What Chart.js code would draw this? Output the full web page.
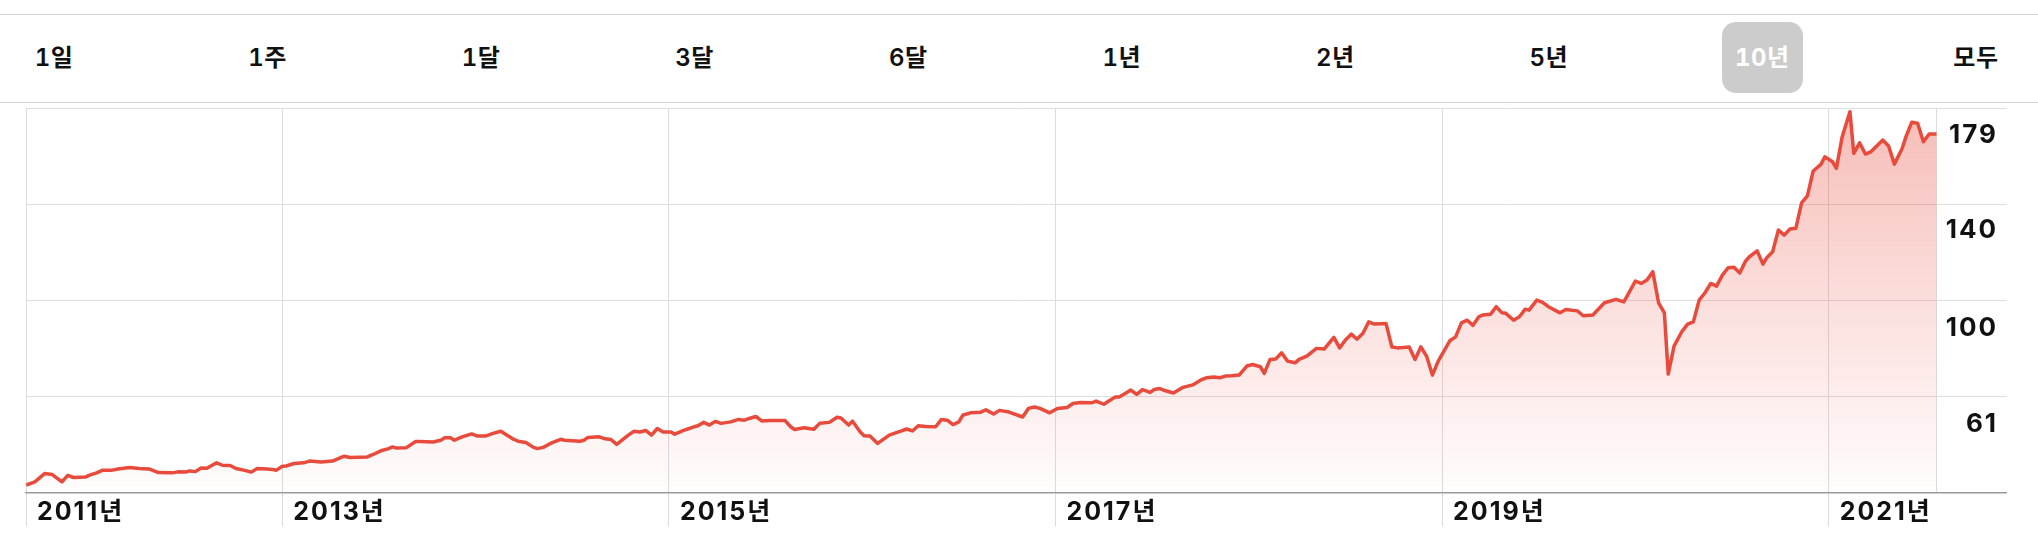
<!DOCTYPE html>
<html><head><meta charset="utf-8">
<script src="https://cdn.jsdelivr.net/npm/chart.js@4"></script>
<style>
html,body{margin:0;padding:0;background:#fff;width:2038px;height:540px;overflow:hidden;font-family:Inter,'Noto Sans CJK KR',sans-serif;}
.rule{position:absolute;left:0;width:2038px;height:1px;background:#d6d6d6;}
#tabs{position:absolute;left:13.5px;top:22px;width:2003px;height:71px;display:flex;justify-content:space-between;}
.tab{width:81px;height:71px;line-height:71px;text-align:center;font-size:24px;font-weight:600;color:#111;border-radius:14px;font-variant-numeric:tabular-nums;letter-spacing:0.5px;}
.tab.active{background:#cccccc;color:#fff;font-weight:700;}
#wrap{position:absolute;left:0;top:100px;width:2038px;height:440px;}
</style></head>
<body>
<div class="rule" style="top:14px"></div>
<div id="tabs"></div>
<div class="rule" style="top:102px"></div>
<div id="wrap"><canvas id="c" width="2038" height="440"></canvas></div>
<script>
// ---- data ----
const tabLabels = ['1일','1주','1달','3달','6달','1년','2년','5년','10년','모두'];
const activeTab = '10년';

const dates = [
2011.675,2011.72,2011.77,2011.81,2011.86,2011.89,2011.92,2011.98,2012.01,2012.04,
2012.07,2012.12,2012.15,2012.21,2012.26,2012.31,2012.36,2012.43,2012.46,2012.50,
2012.52,2012.55,2012.58,2012.61,2012.66,2012.69,2012.73,2012.76,2012.80,2012.84,
2012.87,2012.92,2012.95,2012.97,2013.00,2013.02,2013.06,2013.11,2013.14,2013.20,
2013.26,2013.32,2013.35,2013.44,2013.47,2013.51,2013.55,2013.57,2013.59,2013.64,
2013.69,2013.71,2013.78,2013.82,2013.84,2013.87,2013.89,2013.93,2013.98,2014.01,
2014.05,2014.09,2014.13,2014.19,2014.22,2014.26,2014.30,
2014.32,2014.35,2014.38,2014.40,2014.44,2014.46,2014.54,2014.56,2014.58,2014.64,
2014.67,2014.70,2014.73,2014.79,2014.82,2014.85,2014.88,2014.91,2014.94,2014.97,
2015.01,2015.03,2015.07,2015.09,2015.13,2015.15,2015.18,2015.21,2015.24,2015.27,
2015.32,2015.36,2015.39,2015.42,2015.45,2015.48,2015.52,2015.60,2015.63,2015.65,
2015.70,2015.75,2015.78,2015.83,2015.87,2015.89,2015.93,2015.95,2015.99,2016.01,
2016.04,2016.08,2016.14,2016.18,2016.20,2016.23,2016.26,2016.29,2016.33,2016.38,
2016.41,2016.44,2016.47,2016.50,2016.52,2016.56,2016.61,2016.64,2016.68,2016.71,
2016.76,2016.83,2016.86,2016.89,2016.92,2016.97,
2017.01,2017.06,2017.09,2017.13,2017.19,2017.21,2017.25,2017.27,2017.31,2017.33,
2017.39,2017.42,2017.45,2017.49,2017.51,2017.54,2017.57,2017.61,2017.66,2017.71,
2017.75,2017.78,2017.82,2017.85,2017.88,2017.91,2017.95,2017.99,2018.02,2018.06,
2018.08,2018.11,2018.14,2018.17,2018.20,2018.24,2018.26,2018.30,2018.35,2018.39,
2018.44,2018.47,2018.50,2018.53,2018.56,2018.59,2018.62,2018.65,2018.71,2018.74,
2018.77,2018.83,2018.86,2018.89,2018.92,2018.95,2018.98,2019.04,2019.07,2019.10,
2019.13,2019.16,2019.19,2019.21,2019.25,2019.28,2019.31,2019.33,2019.37,2019.40,
2019.43,2019.45,2019.49,2019.52,2019.55,
2019.61,2019.64,2019.70,2019.73,2019.78,2019.84,2019.90,2019.94,2019.96,2020.00,
2020.03,2020.06,2020.09,2020.12,2020.15,2020.17,2020.20,2020.24,2020.27,2020.30,
2020.33,2020.36,2020.39,2020.42,2020.45,2020.48,2020.51,2020.54,2020.57,2020.59,
2020.63,2020.66,2020.68,2020.71,2020.74,2020.77,2020.80,2020.83,2020.86,2020.89,
2020.92,2020.96,2020.98,2021.02,2021.04,2021.07,2021.11,2021.13,2021.16,2021.19,
2021.22,2021.28,2021.31,2021.34,2021.38,2021.40,2021.43,2021.46,2021.49,2021.52,
2021.558
];

const prices = [
36.1,37.4,40.8,40.4,37.4,40.1,39.2,39.4,40.4,41.1,
42.2,42.2,42.7,43.3,42.9,42.7,41.2,41.1,41.5,41.4,
41.9,41.6,43.1,43.0,45.2,44.2,44.1,42.9,42.2,41.4,
42.9,42.7,42.5,42.2,43.8,43.9,44.9,45.2,45.9,45.5,
45.9,47.9,47.4,47.6,48.6,50.1,51.0,51.7,51.2,51.3,
53.9,53.9,53.7,54.4,55.4,55.4,54.4,55.8,57.0,56.1,
56.1,57.2,58.1,55.1,54.0,53.5,51.5,
51.0,51.5,52.8,53.5,54.8,54.4,54.0,54.4,55.5,55.8,
55.0,54.7,52.7,56.5,58.1,57.8,58.4,56.5,59.2,57.8,
57.8,56.9,58.2,58.8,59.9,60.3,61.7,60.6,62.1,61.3,
61.9,62.9,62.6,63.4,64.1,62.3,62.5,62.5,59.9,58.8,
59.5,58.9,61.3,61.7,63.8,63.5,60.6,62.2,57.8,56.2,
56.1,53.1,56.5,57.6,58.1,59.0,58.2,60.3,60.0,59.9,
62.9,62.6,60.8,61.9,64.6,65.6,65.8,66.8,65.1,66.6,
65.9,63.9,67.4,68.0,67.4,65.6,
67.4,67.8,69.4,69.8,69.7,70.4,69.1,70.1,72.1,72.1,
74.9,73.1,75.1,73.9,75.1,75.5,74.6,73.7,76.0,77.0,
78.9,79.9,80.2,79.9,80.6,80.7,81.0,84.7,85.3,84.4,
81.7,87.4,87.6,90.1,86.7,86.0,87.4,88.7,91.9,91.6,
96.4,92.1,95.3,97.7,95.7,98.0,102.7,101.8,102.1,92.5,
92.1,92.5,87.4,92.5,88.7,81.0,86.7,95.0,96.6,102.3,
103.4,101.3,104.8,105.5,105.8,108.9,106.4,106.2,103.4,104.8,
107.9,107.5,111.6,110.7,108.9,
106.4,107.8,107.2,105.2,105.5,110.5,111.9,110.9,113.6,119.4,
118.4,119.8,123.2,110.5,106.4,81.4,92.8,98.7,101.8,102.7,
111.6,114.6,118.4,117.3,121.8,124.8,125.0,122.7,127.5,129.3,
131.7,126.3,128.9,131.3,140.2,138.1,140.6,140.9,151.3,154.1,
164.3,167.0,170.1,168.1,165.4,178.3,188.5,171.5,175.8,171.2,
172.2,176.9,174.5,167.1,173.5,178.3,184.2,183.8,176.2,179.4,
179.4
];

const xAxisStart = 2011.674;
const xAxisEnd = 2021.92;
const xTickValues = [2011.674, 2013, 2015, 2017, 2019, 2021, 2021.558];
const xTickLabels = ['2011년', '2013년', '2015년', '2017년', '2019년', '2021년', ''];
const yAxisMin = 33;
const yAxisMax = 190;
const yGridBands = 4;
const yTickLabels = [179, 140, 100, 61];

// ---- header tabs ----
const tabsEl = document.getElementById('tabs');
tabLabels.forEach(t => {
  const d = document.createElement('div');
  d.className = 'tab' + (t === activeTab ? ' active' : '');
  d.textContent = t;
  tabsEl.appendChild(d);
});

// ---- chart ----
const LINE = '#e84a3c';
const FONT = "Inter, 'Noto Sans CJK KR', sans-serif";
const Y_SPACING = 2;

const spacingPlugin = {
  id: 'spacing',
  beforeDraw(chart) { chart.ctx.letterSpacing = '2px'; }
};

const yLabelPlugin = {
  id: 'yLabels',
  afterDatasetsDraw(chart) {
    const c = chart.ctx, ys = chart.scales.y;
    c.save();
    c.font = "700 26px " + FONT;
    c.letterSpacing = Y_SPACING + 'px';
    c.fillStyle = '#111';
    c.textAlign = 'right';
    c.textBaseline = 'middle';
    yTickLabels.forEach(v => c.fillText(String(v), chart.chartArea.right - 10.5 + Y_SPACING, ys.getPixelForValue(v)));
    c.restore();
  }
};

new Chart(document.getElementById('c'), {
  type: 'line',
  data: {
    datasets: [{
      data: dates.map((d, i) => ({ x: d, y: prices[i] })),
      borderColor: LINE,
      borderWidth: 3.5,
      pointRadius: 0,
      tension: 0,
      borderJoinStyle: 'round',
      fill: 'start',
      backgroundColor: (ctx) => {
        const { chart } = ctx;
        const a = chart.chartArea;
        if (!a) return 'rgba(232,74,60,0.15)';
        const g = chart.ctx.createLinearGradient(0, a.top, 0, a.bottom);
        g.addColorStop(0, 'rgba(232,74,60,0.37)');
        g.addColorStop(0.55, 'rgba(232,74,60,0.16)');
        g.addColorStop(1, 'rgba(232,74,60,0.01)');
        return g;
      }
    }]
  },
  options: {
    responsive: false,
    animation: false,
    devicePixelRatio: 1,
    layout: { padding: { left: 26, right: 31.5, top: 8, bottom: 0 } },
    plugins: { legend: { display: false }, tooltip: { enabled: false } },
    scales: {
      x: {
        type: 'linear',
        min: xAxisStart,
        max: xAxisEnd,
        afterBuildTicks: s => { s.ticks = xTickValues.map(v => ({ value: v })); },
        afterFit: s => { s.height = 47.3; },
        grid: {
          color: '#dcdcdc',
          lineWidth: 1,
          drawTicks: true,
          tickLength: 34,
          tickColor: ctx => ctx.index === xTickValues.length - 1 ? 'rgba(0,0,0,0)' : '#dcdcdc'
        },
        border: { display: true, color: '#9a9a9a', width: 1.5 },
        ticks: {
          autoSkip: false,
          maxRotation: 0,
          align: 'start',
          labelOffset: 11,
          padding: -29,
          color: '#111',
          font: { family: FONT, size: 25, weight: '700' },
          callback: (v, i) => xTickLabels[i]
        }
      },
      y: {
        type: 'linear',
        min: yAxisMin,
        max: yAxisMax,
        afterBuildTicks: s => {
          const t = [];
          for (let i = 0; i <= yGridBands; i++) t.push({ value: yAxisMin + i * (yAxisMax - yAxisMin) / yGridBands });
          s.ticks = t;
        },
        grid: { color: '#dedede', lineWidth: 1, drawTicks: false },
        border: { display: false },
        ticks: { display: false }
      }
    }
  },
  plugins: [spacingPlugin, yLabelPlugin]
});
</script>
</body></html>
